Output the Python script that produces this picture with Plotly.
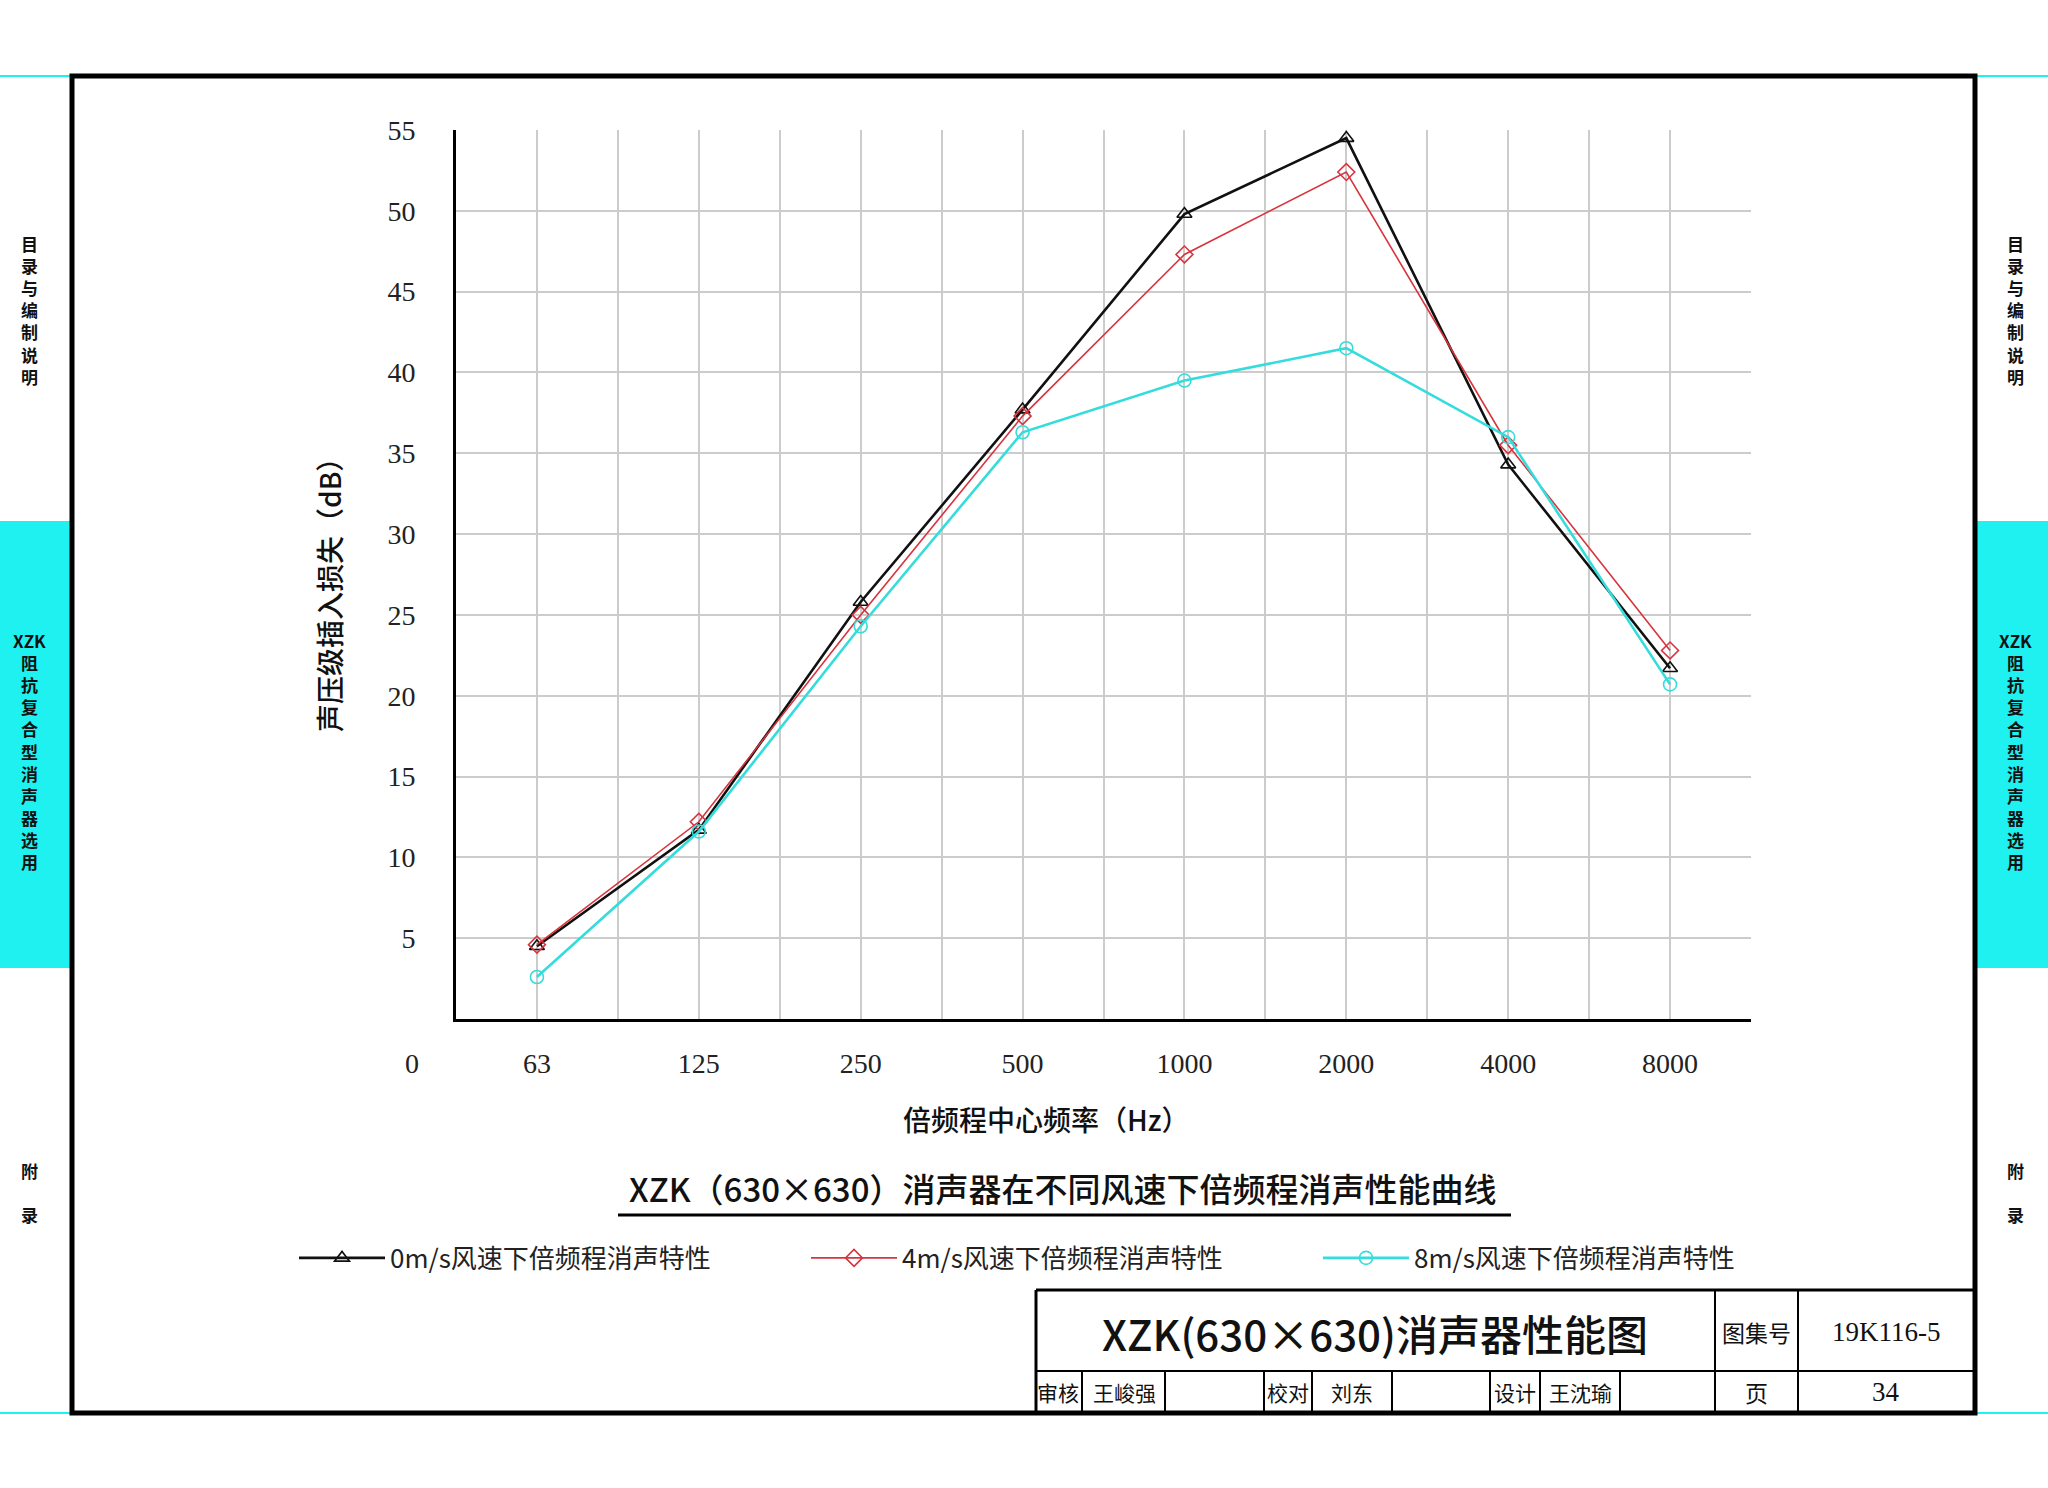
import plotly.graph_objects as go

# ---------------- data ----------------
categories = ["63", "125", "250", "500", "1000", "2000", "4000", "8000"]
series_names = ["0m/s风速下倍频程消声特性", "4m/s风速下倍频程消声特性", "8m/s风速下倍频程消声特性"]
v0 = [4.5, 11.7, 25.8, 37.7, 49.8, 54.5, 34.3, 21.7]
v4 = [4.6, 12.2, 25.0, 37.3, 47.3, 52.4, 35.5, 22.8]
v8 = [2.6, 11.6, 24.3, 36.3, 39.5, 41.5, 36.0, 20.7]
y_ticks = [5, 10, 15, 20, 25, 30, 35, 40, 45, 50, 55]

# ---------------- page geometry (px) ----------------
W, H = 2048, 1488
ML, MR, MT, MB = 456, 2048 - 1751, 130, 1488 - 1019
PW = W - ML - MR
PH = H - MT - MB
PBOT = H - MB

def px(x):
    return (x - ML) / PW

def py(y):
    return (PBOT - y) / PH

CJK = "Noto Sans CJK SC"
SERIF = "Liberation Serif"

idx = list(range(len(categories)))

fig = go.Figure()
styles = [
    dict(color="#111111", width=2.6, symbol="triangle-up-open"),
    dict(color="#d8343e", width=1.6, symbol="diamond-open"),
    dict(color="#35dcdc", width=2.6, symbol="circle-open"),
]
legend_ids = ["legend", "legend2", "legend3"]
for name, vals, st, lg in zip(series_names, [v0, v4, v8], styles, legend_ids):
    fig.add_trace(go.Scatter(
        x=idx, y=vals, name=name, mode="lines+markers", legend=lg,
        line=dict(color=st["color"], width=st["width"]),
        marker=dict(symbol=st["symbol"], size=13, color=st["color"],
                    line=dict(color=st["color"], width=1.6)),
    ))

grid = "#cccccc"
fig.update_xaxes(
    range=[-0.5, 7.5], tickmode="array", tickvals=idx, ticktext=categories,
    showgrid=True, gridcolor=grid, gridwidth=2,
    minor=dict(tickmode="linear", tick0=-0.5, dtick=0.5, showgrid=True,
               gridcolor=grid, gridwidth=2, ticks=""),
    showline=True, linecolor="black", linewidth=3, ticks="",
    ticklabelstandoff=17, zeroline=False,
    tickfont=dict(family=SERIF, size=28, color="#222222"),
)
fig.update_yaxes(
    range=[0, 55], tickmode="array", tickvals=y_ticks,
    showgrid=True, gridcolor=grid, gridwidth=2,
    showline=True, linecolor="black", linewidth=3, ticks="",
    ticklabelstandoff=32, zeroline=False,
    tickfont=dict(family=SERIF, size=28, color="#222222"),
)

shapes = []
def line(x0, y0, x1, y1, color="black", width=2):
    shapes.append(dict(type="line", xref="paper", yref="paper",
                       x0=px(x0), y0=py(y0), x1=px(x1), y1=py(y1),
                       line=dict(color=color, width=width)))
def rect(x0, y0, x1, y1, fill=None, color="black", width=0):
    shapes.append(dict(type="rect", xref="paper", yref="paper",
                       x0=px(x0), y0=py(y0), x1=px(x1), y1=py(y1),
                       fillcolor=fill, line=dict(color=color, width=width),
                       layer="below"))

CYAN = "#1ff0f0"
# side bars
rect(0, 521, 70, 968, fill=CYAN)
rect(1977, 521, 2048, 968, fill=CYAN)
line(0, 76, 72, 76, color=CYAN, width=2)
line(1975, 76, 2048, 76, color=CYAN, width=2)
line(0, 1413, 72, 1413, color=CYAN, width=2)
line(1975, 1413, 2048, 1413, color=CYAN, width=2)
# outer frame
shapes.append(dict(type="rect", xref="paper", yref="paper",
                   x0=px(72), y0=py(76), x1=px(1975), y1=py(1413),
                   line=dict(color="black", width=5)))
# title underline
line(618, 1215, 1511, 1215, width=3)
# title block
line(1036, 1290, 1975, 1290, width=3)
line(1036, 1290, 1036, 1413, width=3)
line(1036, 1371, 1975, 1371, width=2)
for xv in [1715, 1798]:
    line(xv, 1290, xv, 1413, width=2)
for xv in [1082, 1165, 1264, 1312, 1392, 1490, 1540, 1620]:
    line(xv, 1371, xv, 1413, width=2)

ann = []
def text(x, y, s, size, family=CJK, color="#111111", xanchor="center", angle=0, weight="normal"):
    ann.append(dict(xref="paper", yref="paper", x=px(x), y=py(y), text=s,
                    showarrow=False, xanchor=xanchor, yanchor="middle",
                    textangle=angle,
                    font=dict(family=family, size=size, color=color, weight=weight)))

# axis titles / labels
text(329, 588, "声压级插入损失（dB）", 28, angle=-90, weight=500)
text(1046, 1119, "倍频程中心频率（Hz）", 28, weight=500)
text(421, 1063, "0", 28, family=SERIF, color="#222222", xanchor="right")
text(1062, 1188, "XZK（630×630）消声器在不同风速下倍频程消声性能曲线", 33, weight=500)

# side texts, stacked vertically one glyph per line
side1 = "<br>".join("目录与编制说明")
side2 = "XZK<br>" + "<br>".join("阻抗复合型消声器选用")
side3 = "附<br><br>录"
for xc in [29, 2015]:
    text(xc, 310, side1, 17, weight="bold")
    text(xc, 751, side2, 17, weight="bold")
    text(xc, 1192, side3, 17, weight="bold")

# title block texts
text(1375, 1332, "XZK(630×630)消声器性能图", 42, weight=500)
text(1756, 1332, "图集号", 23)
text(1886, 1332, "19K116-5", 27, family=SERIF)
text(1756, 1392, "页", 23)
text(1886, 1392, "34", 27, family=SERIF)
for xc, s in [(1058, "审核"), (1124, "王峻强"), (1288, "校对"), (1352, "刘东"),
              (1515, "设计"), (1580, "王沈瑜")]:
    text(xc, 1392, s, 21)

legend_x = [294, 806, 1318]
legend_common = dict(orientation="h", xref="container", yref="container",
                     y=1 - 1258 / H, xanchor="left", yanchor="middle",
                     itemwidth=86,
                     font=dict(family=CJK, size=26, color="#222222"),
                     bgcolor="rgba(0,0,0,0)")

fig.update_layout(
    width=W, height=H,
    margin=dict(l=ML, r=MR, t=MT, b=MB, pad=0),
    paper_bgcolor="white", plot_bgcolor="white",
    showlegend=True,
    legend=dict(x=legend_x[0] / W, **legend_common),
    legend2=dict(x=legend_x[1] / W, **legend_common),
    legend3=dict(x=legend_x[2] / W, **legend_common),
    shapes=shapes, annotations=ann,
)

fig.write_html("out.html")
